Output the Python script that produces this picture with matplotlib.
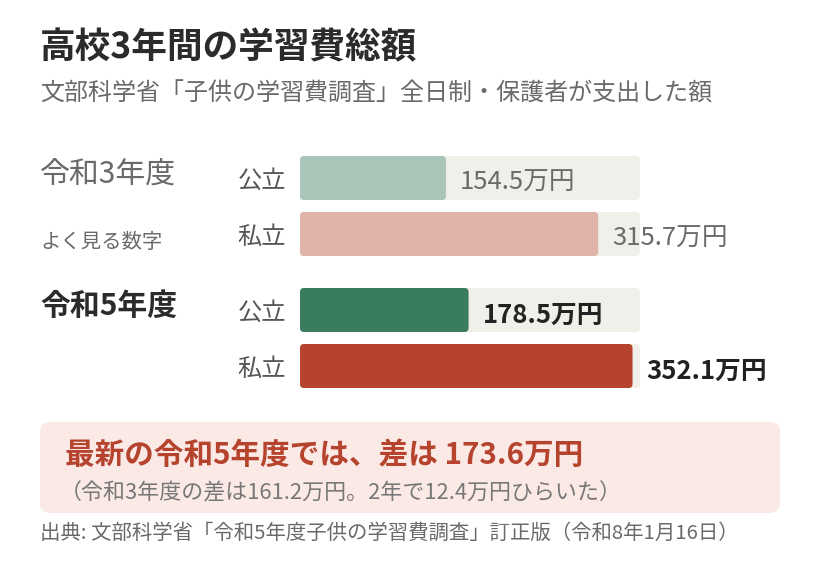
import matplotlib
matplotlib.use("Agg")
import matplotlib.pyplot as plt
from matplotlib.patches import FancyBboxPatch

plt.rcParams['font.family'] = ['Noto Sans CJK JP', 'DejaVu Sans']

# data
years = ["令和3年度", "令和5年度"]
schools = ["公立", "私立"]
r3_values = [154.5, 315.7]
r5_values = [178.5, 352.1]
scale_max = 360

title = "高校3年間の学習費総額"
subtitle = "文部科学省「子供の学習費調査」全日制・保護者が支出した額"
note = "よく見る数字"
headline = "最新の令和5年度では、差は 173.6万円"
subline = "（令和3年度の差は161.2万円。2年で12.4万円ひらいた）"
source = "出典: 文部科学省「令和5年度子供の学習費調査」訂正版（令和8年1月16日）"

W, H = 820, 564
fig = plt.figure(figsize=(W / 100, H / 100), dpi=100)
fig.patch.set_facecolor("white")

# page axes in pixel units for text and panel
page = fig.add_axes([0, 0, 1, 1])
page.set_xlim(0, W)
page.set_ylim(H, 0)
page.axis("off")

dy = 3  # CJK font centring offset
page.text(40, 45 + dy, title, fontsize=25.7, fontweight="bold", color="#2b2b2b", va="center")
page.text(40, 91 + dy, subtitle, fontsize=17.3, color="#6a6a6a", va="center")
page.text(40, 172 + dy, years[0], fontsize=21.5, color="#6a6a6a", va="center")
page.text(40, 240 + dy, note, fontsize=14.7, color="#6a6a6a", va="center")
page.text(40, 303 + dy, years[1], fontsize=21.5, fontweight="bold", color="#2b2b2b", va="center")

# bar axes: x in value units, y in pixel rows
top, bottom, left, width = 150, 395, 300, 340
bx = fig.add_axes([left / W, 1 - bottom / H, width / W, (bottom - top) / H])
bx.set_xlim(0, scale_max)
bx.set_ylim(bottom, top)
bx.axis("off")

xpp = scale_max / width  # value units per pixel
bar_h = 44
rows = [178, 234, 310, 366]
colors = ["#a8c5b8", "#e0b3a8", "#3a7d5e", "#b5432d"]
values = r3_values + r5_values


def rbar(ax, yc, w, color):
    p = FancyBboxPatch((0, yc - bar_h / 2), w, bar_h,
                       boxstyle=f"round,pad=0,rounding_size={4 * xpp}",
                       mutation_aspect=1 / xpp, fc=color, ec="none")
    ax.add_patch(p)


for i, (yc, v, c) in enumerate(zip(rows, values, colors)):
    rbar(bx, yc, scale_max, "#f0efea")
    rbar(bx, yc, v, c)
    lab = f"{v}万円"
    if i < 2:
        bx.text(v + 14 * xpp, yc + 2 + dy, lab, fontsize=18.5, color="#6a6a6a",
                va="center", clip_on=False)
    else:
        bx.text(v + 14 * xpp, yc + 2 + dy, lab, fontsize=18.5, fontweight="bold",
                color="#222222", va="center", clip_on=False)
    page.text(286, yc + dy, schools[i % 2], fontsize=17.5, color="#555555",
              ha="right", va="center")

# summary panel
panel = FancyBboxPatch((40, 422), 740, 91, boxstyle="round,pad=0,rounding_size=10",
                       fc="#fbe9e6", ec="none")
page.add_patch(panel)
page.text(65, 452 + dy, headline, fontsize=21.3, fontweight="bold", color="#b5432d", va="center")
page.text(60, 490 + dy, subline, fontsize=15.8, color="#777777", va="center")
page.text(40, 530 + dy, source, fontsize=14.7, color="#6a6a6a", va="center")

fig.savefig("out.png", dpi=100, facecolor="white")
